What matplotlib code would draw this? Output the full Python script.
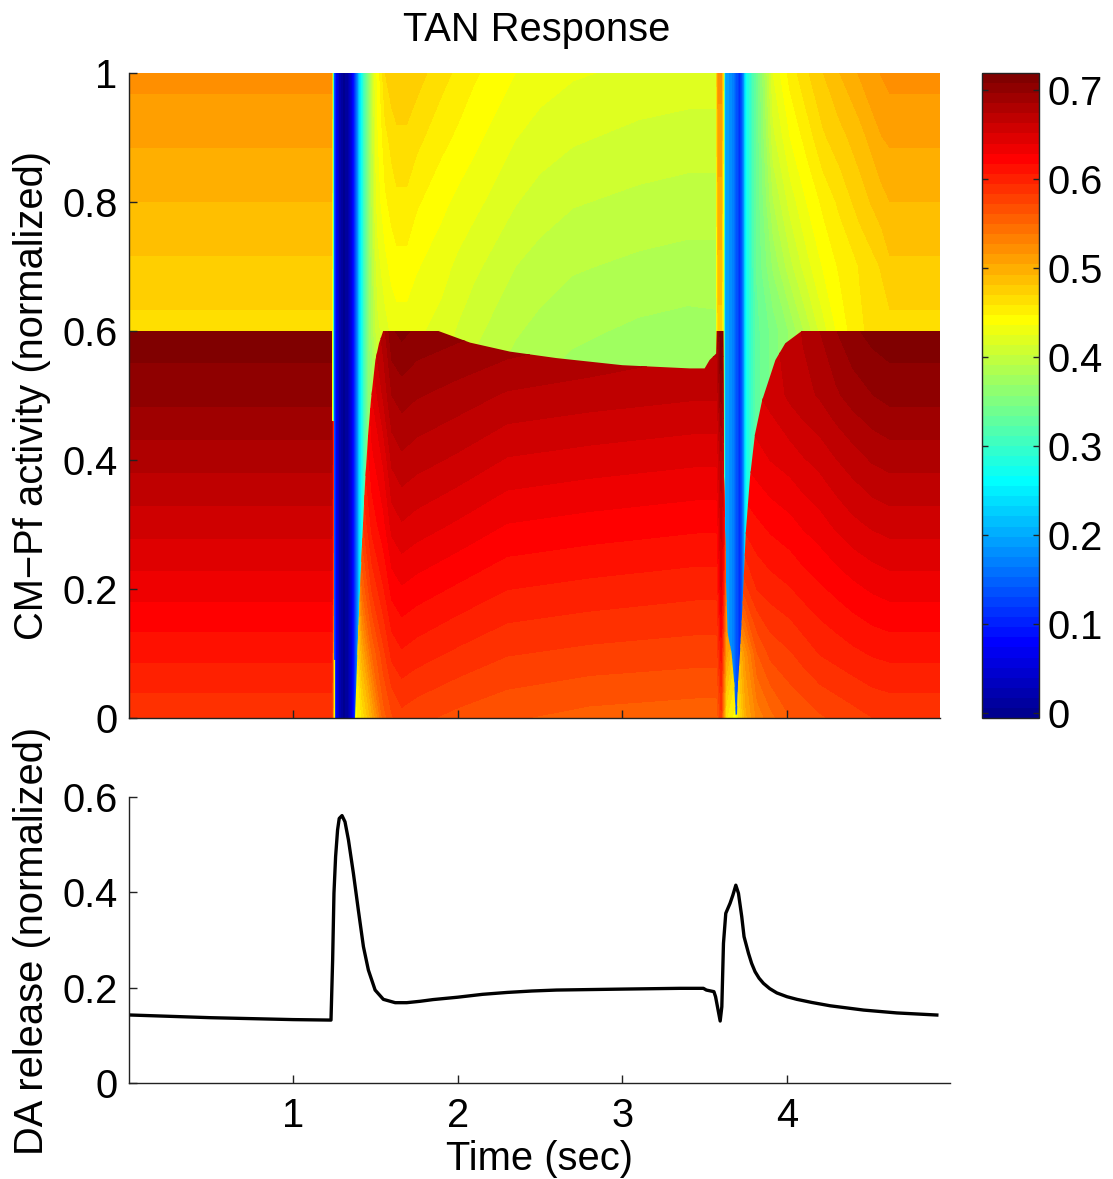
import numpy as np
import matplotlib
matplotlib.use('Agg')
from matplotlib import pyplot as plt
from matplotlib.colors import ListedColormap, Normalize
from matplotlib.cm import ScalarMappable
from matplotlib.path import Path

plt.rcParams['font.family'] = ['Liberation Sans', 'DejaVu Sans']

# ---------- upper field (also the two dips, which do not change with y) ----------
strip1 = [.36, .15, .08, .02, .0, .02, .085, .2, .27, .36]
strip2 = [.2, .17, .11, .17, .27]
high_t = [0, 1.235, 1.24, 1.25, 1.26, 1.285, 1.31, 1.336, 1.366, 1.397, 1.417, 1.457,
          1.50, 1.515, 1.56, 1.60, 1.63, 1.69, 1.75, 1.90, 2.0, 2.10, 2.35, 2.5, 2.70, 3.10, 3.40, 3.57,
          3.578, 3.585, 3.60, 3.612,
          3.624, 3.674, 3.715, 3.735, 3.755,
          3.816, 3.917, 4.02, 4.12, 4.22, 4.32, 4.44, 4.575, 4.626, 4.93]
high_y = [0, .54, .6, .7, .8, .9, 1.0]
high_100 = [.5195, .5195] + strip1 + [.43, .44, .47, .478, .481, .481, .475, .463, .456, .449, .436, .43, .426, .422, .42, .42, .50, .52, .52, .46] + strip2 + [.335, .425, .452, .468, .481, .4925, .505, .516, .5195, .5195]
high_90 = [.506, .506] + strip1 + [.425, .435, .455, .463, .467, .467, .462, .451, .445, .439, .425, .42, .415, .41, .408, .408, .49, .51, .51, .45] + strip2 + [.335, .41, .436, .452, .468, .477, .4875, .5035, .506, .506]
high_80 = [.4925, .4925] + strip1 + [.42, .43, .445, .452, .456, .456, .449, .439, .433, .428, .414, .408, .403, .399, .397, .397, .48, .50, .50, .44] + strip2 + [.335, .39, .418, .436, .45, .461, .475, .488, .4925, .4925]
high_70 = [.479, .479] + strip1 + [.41, .42, .432, .44, .443, .443, .437, .429, .422, .416, .402, .397, .392, .388, .386, .386, .47, .49, .49, .43] + strip2 + [.335, .37, .398, .42, .437, .449, .459, .471, .479, .479]
high_60 = [.4655, .4655] + strip1 + [.40, .41, .42, .427, .43, .43, .427, .42, .412, .405, .392, .387, .382, .377, .375, .376, .46, .475, .475, .42] + strip2 + [.33, .35, .37, .395, .42, .44, .457, .4635, .4655, .4655]
high_54 = [.4655, .4655] + strip1 + [.39, .40, .41, .42, .424, .424, .42, .415, .407, .399, .386, .381, .376, .371, .369, .37, .46, .475, .475, .42] + strip2 + [.33, .35, .37, .395, .42, .44, .457, .4635, .4655, .4655]

# ---------- lower field ----------
low_t = [0, 1.235, 1.25, 1.376, 1.42, 1.48, 1.55, 1.60, 1.66, 1.75, 2.0, 2.3, 2.8, 3.45, 3.575, 3.6,
         3.615, 3.63, 3.69, 3.75, 3.82, 3.9, 4.02, 4.1, 4.2, 4.3, 4.4, 4.52, 4.626, 4.93]
low_y = [0, .1, .2, .3, .4, .5, .6]
low_60 = [.715, .715, .5, .60, .62, .66, .68, .706, .711, .705, .70, .695, .688, .68, .68, .72, .70, .6, .65, .65, .655, .66, .667, .675, .685, .696, .705, .712, .715, .715]
low_50 = [.70, .70, .5, .58, .60, .64, .665, .685, .69, .686, .68, .672, .668, .664, .664, .70, .68, .58, .64, .645, .65, .655, .665, .67, .675, .683, .69, .696, .70, .70]
low_40 = [.678, .678, .52, .55, .60, .625, .642, .665, .671, .667, .66, .65, .646, .642, .642, .67, .65, .56, .62, .63, .635, .64, .645, .65, .655, .662, .668, .675, .678, .678]
low_30 = [.656, .656, .52, .52, .58, .61, .625, .644, .65, .646, .638, .628, .624, .62, .62, .655, .63, .55, .60, .61, .615, .62, .625, .63, .635, .642, .648, .653, .656, .656]
low_20 = [.633, .633, .52, .47, .55, .585, .605, .621, .627, .623, .615, .606, .602, .598, .598, .64, .60, .53, .56, .58, .595, .60, .605, .61, .615, .62, .625, .63, .633, .633]
low_10 = [.609, .609, .44, .45, .50, .55, .58, .598, .604, .60, .592, .584, .58, .577, .577, .61, .56, .51, .47, .52, .56, .575, .582, .588, .595, .599, .603, .607, .609, .609]
low_00 = [.585, .585, .44, .44, .46, .50, .555, .57, .579, .575, .568, .562, .556, .553, .553, .58, .52, .46, .44, .50, .53, .545, .56, .564, .57, .574, .578, .583, .585, .585]

# where the lower field shows
left_block_t = [0, 1.255, 1.255, 1.248, 1.248, 1.236, 1.236, 0]
left_block_y = [0, 0, .09, .09, .46, .46, .6, .6]
main_block_t = [1.376, 1.396, 1.418, 1.437, 1.456, 1.473, 1.50, 1.522, 1.547,
                1.883, 2.075, 2.318, 2.6, 3.0, 3.41, 3.5, 3.53, 3.57, 3.573, 3.613,
                3.617, 3.63, 3.64, 3.664, 3.68, 3.688, 3.697,
                3.703, 3.715, 3.727, 3.75, 3.776, 3.806, 3.85, 3.93, 3.99, 4.09,
                4.93, 4.93]
main_block_y = [0, .136, .265, .364, .44, .493, .555, .581, .6,
                .6, .582, .568, .558, .547, .542, .542, .555, .565, .6, .6,
                .384, .211, .131, .10, .054, .005, .005,
                .054, .10, .157, .287, .374, .44, .493, .555, .581, .6,
                .6, 0]

# ---------- DA release ----------
da_time = [.015, .5, 1.0, 1.23, 1.24, 1.248, 1.258, 1.27, 1.28, 1.297, 1.315, 1.336, 1.366, 1.396, 1.427, 1.457, 1.498, 1.548, 1.62, 1.69, 1.771, 1.85, 2.0, 2.15, 2.3, 2.45, 2.6, 3.0, 3.35, 3.492, 3.51, 3.556, 3.566, 3.594, 3.604, 3.614, 3.628, 3.654, 3.671, 3.689, 3.705, 3.725, 3.739, 3.766, 3.785, 3.806, 3.83, 3.857, 3.895, 3.938, 4.0, 4.06, 4.15, 4.262, 4.465, 4.667, 4.91]
da_value = [.1426, .137, .133, .132, .258, .398, .475, .531, .555, .561, .548, .51, .44, .363, .286, .237, .195, .1755, .1685, .1685, .1714, .175, .18, .186, .19, .193, .195, .197, .1986, .1986, .195, .1916, .181, .130, .16, .293, .356, .377, .394, .415, .398, .349, .307, .272, .251, .2335, .22, .209, .198, .189, .181, .1755, .169, .162, .153, .147, .1426]

W, H = 1113, 1179
VMIN, VMAX = -.0056, .719


def axes_px(fig, x0, y0, x1, y1):
    return fig.add_axes([x0 / W, 1 - y1 / H, (x1 - x0) / W, (y1 - y0) / H])


def matlab_jet():
    # same construction as the 64 colour jet of matlab
    n = 16
    u = np.concatenate([np.arange(1, n + 1) / n, np.ones(n - 1), np.arange(n, 0, -1) / n])
    g = 8 + np.arange(1, len(u) + 1)
    r = g + n
    b = g - n
    colors = np.zeros((64, 3))
    colors[g - 1, 1] = u
    colors[r[r <= 64] - 1, 0] = u[r <= 64]
    colors[b[b >= 1] - 1, 2] = u[b >= 1]
    return ListedColormap(colors)


cmap = matlab_jet()
levels = np.linspace(VMIN, VMAX, 65)
norm = Normalize(VMIN, VMAX)
line_color = '#222222'
fs = 28.7

fig = plt.figure(figsize=(W / 100, H / 100), dpi=100)

# ========== heat map ==========
ax = axes_px(fig, 128.5, 73, 940, 718)
ax.set_facecolor('#70ffa0')
high = np.array([high_54, high_54, high_60, high_70, high_80, high_90, high_100])
low = np.array([low_00, low_10, low_20, low_30, low_40, low_50, low_60])
ax.contourf(high_t, high_y, high, levels=levels, cmap=cmap, norm=norm, extend='both', antialiased=False)
cs = ax.contourf(low_t, low_y, low, levels=levels, cmap=cmap, norm=norm, extend='both', antialiased=False)
clip = Path.make_compound_path(
    Path(np.column_stack([left_block_t, left_block_y]), closed=False),
    Path(np.column_stack([main_block_t, main_block_y]), closed=False))
cs.set_clip_path(clip, ax.transData)
ax.set_xlim(0, 4.93)
ax.set_ylim(0, 1)
ax.set_xticks([1, 2, 3, 4])
ax.set_xticklabels([])
ax.set_yticks([0, .2, .4, .6, .8, 1])
ax.set_yticklabels(['0', '0.2', '0.4', '0.6', '0.8', '1'])
ax.tick_params(direction='in', length=6, width=1, labelsize=fs, pad=8, color=line_color)
ax.spines['top'].set_visible(False)
ax.spines['right'].set_visible(False)
for s in ['left', 'bottom']:
    ax.spines[s].set_color(line_color)
    ax.spines[s].set_linewidth(1)

# ========== colorbar ==========
cax = axes_px(fig, 982, 73, 1039, 718)
cbar = fig.colorbar(ScalarMappable(norm=norm, cmap=cmap), cax=cax)
cbar.set_ticks([0, .1, .2, .3, .4, .5, .6, .7])
cbar.set_ticklabels(['0', '0.1', '0.2', '0.3', '0.4', '0.5', '0.6', '0.7'])
cax.tick_params(direction='in', length=4.5, width=1, labelsize=fs, pad=6, left=True, right=True, color=line_color)
cbar.outline.set_edgecolor(line_color)
cbar.outline.set_linewidth(1)

# ========== DA release ==========
ax2 = axes_px(fig, 128.5, 797, 950, 1083)
ax2.plot(da_time, da_value, color='black', lw=2.4)
ax2.set_xlim(0, 4.99)
ax2.set_ylim(0, .6)
ax2.set_xticks([1, 2, 3, 4])
ax2.set_xticklabels(['1', '2', '3', '4'])
ax2.set_yticks([0, .2, .4, .6])
ax2.set_yticklabels(['0', '0.2', '0.4', '0.6'])
ax2.tick_params(direction='in', length=6, width=1, labelsize=fs, pad=8, color=line_color)
ax2.tick_params(axis='x', pad=10)
ax2.spines['top'].set_visible(False)
ax2.spines['right'].set_visible(False)
for s in ['left', 'bottom']:
    ax2.spines[s].set_color(line_color)
    ax2.spines[s].set_linewidth(1)

# ========== texts ==========
fig.text(537 / W, 1 - 30 / H, 'TAN Response', fontsize=fs, ha='center', va='center')
fig.text(32 / W, 1 - 395 / H, 'CM\u2212Pf activity (normalized)', fontsize=fs, rotation=90, ha='center', va='center')
fig.text(32 / W, 1 - 941 / H, 'DA release (normalized)', fontsize=fs, rotation=90, ha='center', va='center')
fig.text(540 / W, 1 - 1159 / H, 'Time (sec)', fontsize=fs, ha='center', va='center')

fig.savefig('out.png', dpi=100)
